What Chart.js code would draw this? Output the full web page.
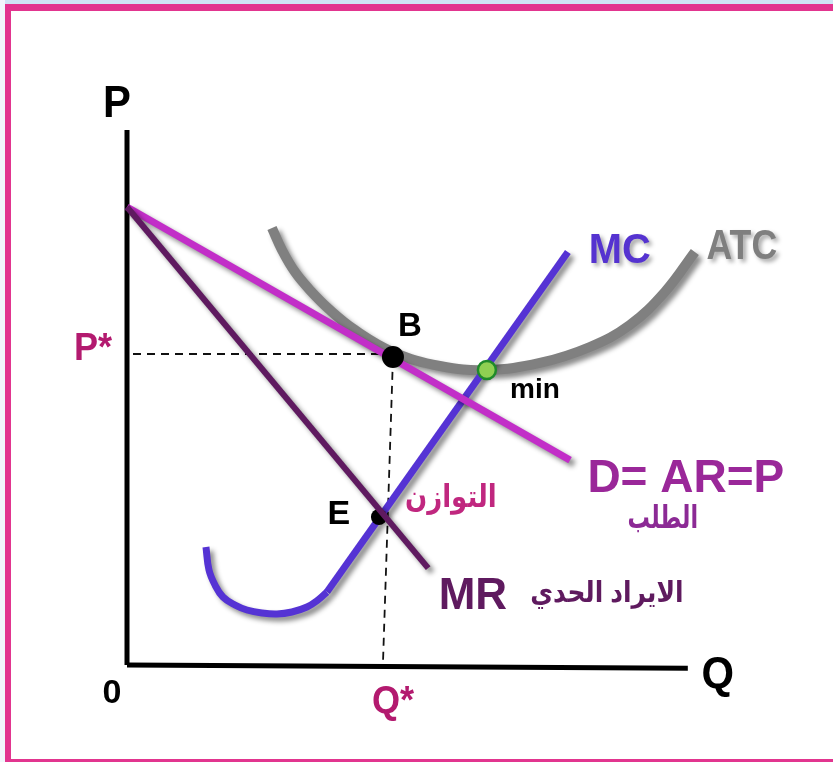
<!DOCTYPE html>
<html>
<head>
<meta charset="utf-8">
<script src="https://cdn.jsdelivr.net/npm/chart.js@4.4.1/dist/chart.umd.min.js"></script>
<style>
    html, body { margin: 0; padding: 0; background: #fff; }
    body { width: 833px; height: 762px; position: relative; overflow: hidden; }
    .strip-top { position: absolute; left: 0; top: 0; width: 833px; height: 4px; background: #cfe5f5; }
    .strip-left { position: absolute; left: 0; top: 0; width: 5px; height: 762px; background: #f2f7fc; }
    .frame {
        position: absolute; left: 5px; top: 4px; width: 840px; height: 758px; box-sizing: border-box;
        border-top: 7px solid #e2358f; border-left: 6px solid #e2358f; border-bottom: 3px solid #e2358f;
    }
    canvas { position: absolute; left: 0; top: 0; }
</style>
</head>
<body>
<div class="strip-top"></div>
<div class="strip-left"></div>
<div class="frame"></div>
<canvas id="monopoly-chart" width="833" height="762"></canvas>
<script>
// curves (Q = quantity, P = price, arbitrary units)
const demand_q = [0, 79.0];
const demand_p = [85.6, 38.3];

const mr_q = [0, 53.7];
const mr_p = [85.6, 18.1];

const mc_curve_q = [14.08, 14.62, 15.69, 17.11, 19.25, 21.39, 24.06, 26.74, 29.41, 32.09, 34.05, 35.65];
const mc_curve_p = [22.06, 17.76, 14.95, 12.71, 11.21, 10.28, 9.72, 9.53, 9.91, 10.84, 12.15, 13.64];
const mc_line_q = [35.65, 78.61];
const mc_line_p = [13.64, 77.20];

const atc_q = [25.85, 27.63, 29.95, 32.62, 36.19, 40.64, 47.42, 55.79, 64.17, 73.62, 82.53, 89.66, 95.90, 101.25];
const atc_p = [81.68, 77.57, 73.46, 70.09, 66.36, 62.62, 58.50, 55.89, 55.14, 56.45, 59.44, 63.55, 69.72, 77.20];

// P* and Q* guides, marked points
const price_star = 58.13;
const guide_h_q = [1.07, 47.42];
const guide_v_q = [47.42, 45.63];
const guide_v_p = [57.4, 0];

const point_b = [47.42, 57.57];
const point_e = [44.92, 27.66];
const point_min = [64.17, 55.14];

// axes
const axis_x_q = [0, 100];
const axis_x_p = [0, -0.6];
const axis_y_q = [0, 0];
const axis_y_p = [0, 100];

const toXY = (qs, ps) => qs.map((q, i) => ({ x: q, y: ps[i] }));

// labels (text, Q, P, size, colour, xScale)
const labels = [
    ["P", -1.78, 104.7, 44, "#000", 0.95],
    ["Q", 105.35, -2.06, 44, "#000", 0.95],
    ["0", -2.67, -5.42, 34, "#000", 1],
    ["P*", -6.06, 58.88, 38, "#b31a6f", 0.95],
    ["Q*", 47.42, -7.1, 38, "#b31a6f", 0.95],
    ["B", 50.45, 63.18, 33, "#000", 1],
    ["E", 37.79, 28.04, 34, "#000", 1],
    ["min", 72.73, 51.4, 28, "#000", 1],
    ["MC", 87.88, 77.38, 42, "#5533d0", 0.95],
    ["ATC", 109.63, 78.13, 42, "#7f7f7f", 0.85],
    ["D= AR=P", 99.64, 34.77, 46, "#9a2799", 1],
    ["الطلب", 95.54, 27.29, 31, "#8c2a95", 0.72],
    ["التوازن", 57.75, 31.21, 31, "#c0277f", 0.84],
    ["MR", 61.68, 12.71, 44, "#5f1a5f", 1],
    ["الايراد الحدي", 85.56, 13.27, 29, "#5f1a5f", 0.86]
];

const FONT = 'Arial, "Liberation Sans", "DejaVu Sans", sans-serif';

const shadowPlugin = {
    id: "lineShadow",
    beforeDatasetDraw(chart, args) {
        const ds = chart.data.datasets[args.index];
        if (!ds.shadow) return;
        const ctx = chart.ctx;
        ctx.save();
        ctx.shadowColor = "rgba(0,0,0,0.45)";
        ctx.shadowBlur = 5;
        ctx.shadowOffsetX = 4;
        ctx.shadowOffsetY = 4;
    },
    afterDatasetDraw(chart, args) {
        const ds = chart.data.datasets[args.index];
        if (ds.shadow) chart.ctx.restore();
    }
};

const textPlugin = {
    id: "chartText",
    afterDraw(chart) {
        const ctx = chart.ctx;
        const xs = chart.scales.x, ys = chart.scales.y;
        labels.forEach(([text, q, p, size, colour, sx]) => {
            const px = xs.getPixelForValue(q);
            const py = ys.getPixelForValue(p);
            ctx.save();
            ctx.translate(px, py);
            ctx.scale(sx, 1);
            ctx.font = `bold ${size}px ${FONT}`;
            ctx.textAlign = "center";
            ctx.textBaseline = "middle";
            if (text === "ATC" || text === "MC") {
                ctx.shadowColor = "rgba(0,0,0,0.35)";
                ctx.shadowBlur = 4;
                ctx.shadowOffsetX = 3;
                ctx.shadowOffsetY = 3;
            }
            ctx.fillStyle = colour;
            ctx.fillText(text, 0, 0);
            ctx.restore();
        });
    }
};

const line = (data, colour, width, order, extra = {}) => Object.assign({
    data, borderColor: colour, borderWidth: width, pointRadius: 0,
    fill: false, tension: 0, clip: false, order
}, extra);

const point = (xy, fill, border, radius, bw, order) => ({
    data: [{ x: xy[0], y: xy[1] }], showLine: false, pointRadius: radius,
    pointBackgroundColor: fill, pointBorderColor: border, pointBorderWidth: bw,
    clip: false, order
});

new Chart(document.getElementById("monopoly-chart"), {
    type: "line",
    data: {
        datasets: [
            line(toXY(axis_y_q, axis_y_p), "#000", 5, 9),
            line(toXY(axis_x_q, axis_x_p), "#000", 5, 9),
            line(toXY(guide_h_q, [price_star, price_star]), "#111", 1.8, 8, { borderDash: [8, 6] }),
            line(toXY(guide_v_q, guide_v_p), "#111", 1.8, 8, { borderDash: [8, 6] }),
            line(toXY(atc_q, atc_p), "#808080", 10, 6, { tension: 0.4, shadow: true }),
            line(toXY(mc_curve_q, mc_curve_p), "#5533d4", 7, 5, { tension: 0.4, shadow: true }),
            line(toXY(mc_line_q, mc_line_p), "#5533d4", 7, 5, { shadow: true }),
            line(toXY(demand_q, demand_p), "#c22ec8", 7, 4, { shadow: true }),
            point(point_e, "#000", "#000", 8, 0, 3.5),
            line(toXY(mr_q, mr_p), "#5f1a60", 6, 3, { shadow: true }),
            point(point_b, "#000", "#000", 11, 0, 1),
            point(point_min, "#8fd052", "#1f8a2a", 9, 2.5, 1)
        ]
    },
    options: {
        responsive: false,
        animation: false,
        events: [],
        layout: { padding: { left: 127, right: 33, top: 130, bottom: 97 } },
        scales: {
            x: { type: "linear", min: 0, max: 120, display: false },
            y: { type: "linear", min: 0, max: 100, display: false }
        },
        plugins: { legend: { display: false }, tooltip: { enabled: false } }
    },
    plugins: [shadowPlugin, textPlugin]
});
</script>
</body>
</html>
